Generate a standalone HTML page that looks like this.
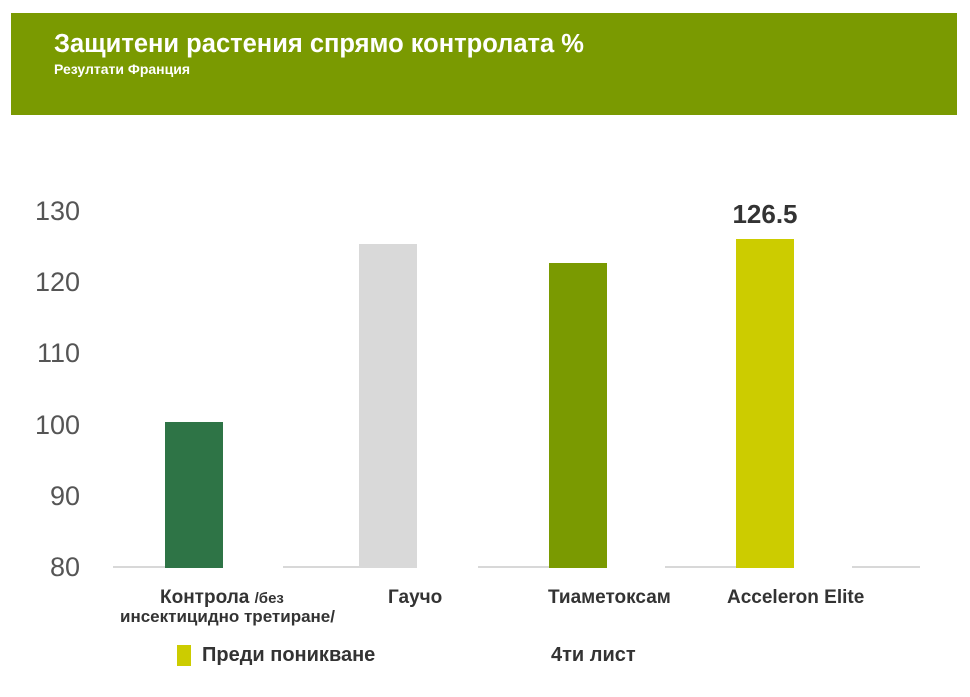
<!DOCTYPE html>
<html><head><meta charset="utf-8"><style>
body{margin:0;width:970px;height:697px;background:#fff;font-family:"Liberation Sans",sans-serif;position:relative;overflow:hidden}
.a{position:absolute;white-space:nowrap}
.banner{left:11px;top:13px;width:946px;height:102px;background:#7a9a01}
.yl{position:absolute;left:10px;width:70px;text-align:right;font-size:27px;color:#555;line-height:1}
.xl{position:absolute;font-weight:bold;font-size:19px;color:#333;line-height:20px;white-space:nowrap}
.bar{position:absolute;width:58px}
.ln{position:absolute;top:566px;height:2px;background:#d8d8d8}
</style></head><body>
<div class="a banner"></div>
<div class="a" style="left:54px;top:30px;color:#fff;font-weight:bold;font-size:25.5px">Защитени растения спрямо контролата %</div>
<div class="a" style="left:54px;top:61px;color:#fff;font-weight:bold;font-size:14px">Резултати Франция</div>

<div class="yl" style="top:198px">130</div>
<div class="yl" style="top:269px">120</div>
<div class="yl" style="top:340px">110</div>
<div class="yl" style="top:412px">100</div>
<div class="yl" style="top:483px">90</div>
<div class="yl" style="top:554px">80</div>

<div class="ln" style="left:113px;width:110px"></div>
<div class="ln" style="left:283px;width:76px"></div>
<div class="ln" style="left:478px;width:72px"></div>
<div class="ln" style="left:665px;width:72px"></div>
<div class="ln" style="left:852px;width:68px"></div>

<div class="bar" style="left:165px;top:422px;height:146px;background:#2e7446"></div>
<div class="bar" style="left:359px;top:244px;height:324px;background:#d9d9d9"></div>
<div class="bar" style="left:549px;top:263px;height:305px;background:#7a9a01"></div>
<div class="bar" style="left:736px;top:239px;height:329px;background:#cccc00"></div>

<div class="a" style="left:715px;top:199px;width:100px;text-align:center;font-weight:bold;font-size:26px;color:#333">126.5</div>

<div class="xl" style="left:160px;top:588px">Контрола <span style="font-size:15px">/без</span></div>
<div class="xl" style="left:120px;top:607px;font-size:17px">инсектицидно третиране/</div>
<div class="xl" style="left:388px;top:588px">Гаучо</div>
<div class="xl" style="left:548px;top:588px">Тиаметоксам</div>
<div class="xl" style="left:727px;top:588px">Acceleron Elite</div>

<div class="a" style="left:177px;top:645px;width:14px;height:21px;background:#cccc00"></div>
<div class="a" style="left:202px;top:644px;font-weight:bold;font-size:20px;color:#333">Преди поникване</div>
<div class="a" style="left:551px;top:644px;font-weight:bold;font-size:20px;color:#333">4ти лист</div>
</body></html>
